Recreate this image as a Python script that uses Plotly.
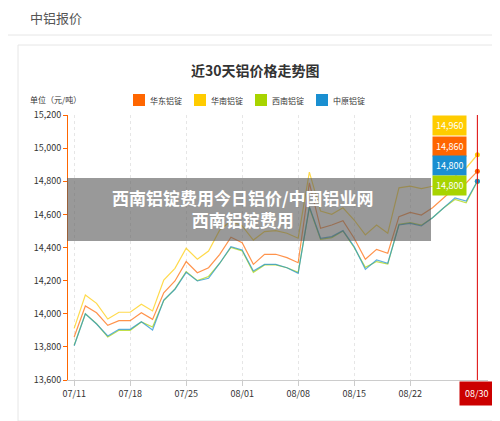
import plotly.graph_objects as go

dates = ["07/11","07/12","07/13","07/14","07/15","07/18","07/19","07/20","07/21","07/22",
         "07/25","07/26","07/27","07/28","07/29","08/01","08/02","08/03","08/04","08/05",
         "08/08","08/09","08/10","08/11","08/12","08/15","08/16","08/17","08/18","08/19",
         "08/22","08/23","08/24","08/25","08/26","08/29","08/30"]
tick_labels = ["07/11","07/18","07/25","08/01","08/08","08/15","08/22"]
huadong = [13860,14047,14006,13930,13958,13958,14006,13966,14127,14198,14315,14248,14278,14359,14462,14429,
           14298,14359,14359,14339,14308,14790,14516,14536,14562,14456,14329,14389,14365,14586,14612,14596,
           14640,14700,14760,14790,14860]
huanan = [13912,14113,14063,13968,14009,14009,14057,14017,14204,14274,14395,14329,14379,14506,14560,14530,
          14445,14496,14502,14486,14456,14855,14620,14600,14640,14566,14476,14536,14486,14760,14770,14755,
          14770,14800,14830,14880,14960]
xinan = [13810,14000,13940,13860,13900,13900,13950,13920,14080,14150,14255,14200,14225,14305,14400,14380,
         14250,14295,14295,14278,14250,14640,14450,14460,14500,14400,14280,14315,14300,14540,14550,14535,
         14580,14640,14690,14670,14800]
zhongyuan = [13807,13999,13938,13866,13906,13906,13952,13902,14083,14148,14250,14198,14214,14305,14405,14385,
             14258,14298,14298,14278,14244,14647,14456,14466,14502,14405,14268,14325,14305,14536,14546,14530,
             14580,14640,14700,14680,14800]
names = ["华东铝锭","华南铝锭","西南铝锭","中原铝锭"]
colors = ["#ff6600","#ffcc00","#a8d400","#1a8fd1"]
series = [huadong, huanan, xinan, zhongyuan]

OFF = 8
L, R, T, B = 68 - OFF, 12, 115 - OFF, 41
FW, FH = 500 - OFF, 421 - OFF
W, H = FW - L - R, FH - T - B
def px(xw): return (xw - OFF - L) / W
def py(yw): return (FH - B - (yw - OFF)) / H

fig = go.Figure()
x = list(range(len(dates)))
for n, c, s in zip(names, colors, series):
    fig.add_trace(go.Scatter(x=x, y=s, mode="lines", name=n, line=dict(color=c, width=1.2),
                             opacity=0.7, showlegend=False, hoverinfo="skip"))
for c, s in zip(colors, series):
    fig.add_trace(go.Scatter(x=[x[-1]], y=[s[-1]], mode="markers", marker=dict(color=c, size=5),
                             showlegend=False, hoverinfo="skip"))

tickvals = [dates.index(t) for t in tick_labels]
fig.update_xaxes(range=[-0.55, 36.95], tickvals=tickvals, ticktext=tick_labels, showgrid=True,
                 gridcolor="#e6e6e6", griddash="dot", ticks="outside", tickcolor="#ccc",
                 linecolor="#ccc", showline=True, tickfont=dict(size=9, color="#333"), zeroline=False)
fig.update_yaxes(range=[13600, 15200], dtick=200, tickformat=",", showgrid=False,
                 showline=True, linecolor="#ff6600", ticks="outside", tickcolor="#ff6600", ticklen=4,
                 tickfont=dict(size=9, color="#333"), zeroline=False)

fig.add_shape(type="line", x0=36, x1=36, y0=13600, y1=15200, line=dict(color="#dd0000", width=1))

anns = [dict(x=36, y=py(393), yref="paper", text="08/30", showarrow=False, yanchor="middle",
             bgcolor="#cc0000", font=dict(color="white", size=9), borderpad=5)]
lab = [("14,960", "#ffcc00", 125), ("14,860", "#ff6600", 146), ("14,800", "#1a8fd1", 165), ("14,800", "#a8d400", 185)]
for t, c, yw in lab:
    anns.append(dict(x=px(449), y=py(yw), xref="paper", yref="paper", text=t, showarrow=False,
                     xanchor="center", yanchor="middle", bgcolor=c,
                     font=dict(color="white", size=9), borderpad=3))
# manual legend
leg_x = [133, 194, 255, 316]
for lx, n, c in zip(leg_x, names, colors):
    fig.add_shape(type="rect", xref="paper", yref="paper", x0=px(lx), x1=px(lx + 12),
                  y0=py(106), y1=py(94), fillcolor=c, line=dict(width=0))
    anns.append(dict(text=n, x=px(lx + 15), y=py(100), xref="paper", yref="paper", xanchor="left",
                     yanchor="middle", showarrow=False, font=dict(size=8, color="#333")))
anns += [
    dict(text="中铝报价", x=px(28), y=py(17), xref="paper", yref="paper", xanchor="left", yanchor="middle",
         showarrow=False, font=dict(size=13, color="#555")),
    dict(text="<b>近30天铝价格走势图</b>", x=px(255), y=py(70), xref="paper", yref="paper",
         xanchor="center", yanchor="middle", showarrow=False, font=dict(size=14, color="#333")),
    dict(text="单位（元/吨）", x=px(28), y=py(99), xref="paper", yref="paper", xanchor="left",
         yanchor="middle", showarrow=False, font=dict(size=8, color="#333")),
    dict(text="<b>西南铝锭费用今日铝价/中国铝业网<br>西南铝锭费用</b>", x=px(243), y=py(208),
         xref="paper", yref="paper", xanchor="center", yanchor="middle", showarrow=False,
         font=dict(size=17, color="white")),
]
fig.update_layout(annotations=anns)
fig.add_shape(type="line", xref="paper", yref="paper", x0=px(0), x1=px(500), y0=py(35), y1=py(35),
              line=dict(color="#e6e6e6", width=1))
fig.add_shape(type="rect", xref="paper", yref="paper", x0=px(18), x1=px(499), y0=py(45), y1=py(421),
              line=dict(color="#e6e6e6", width=1), layer="below")
fig.add_shape(type="rect", xref="paper", yref="paper", x0=px(67), x1=px(431), y0=py(178), y1=py(241),
              fillcolor="rgba(90,90,90,0.62)", line=dict(width=0))
fig.update_layout(
    width=FW, height=FH, margin=dict(l=L, r=R, t=T, b=B),
    paper_bgcolor="white", plot_bgcolor="white",
    font=dict(family="Noto Sans CJK SC"), showlegend=False,
)
fig.write_html("out.html")
